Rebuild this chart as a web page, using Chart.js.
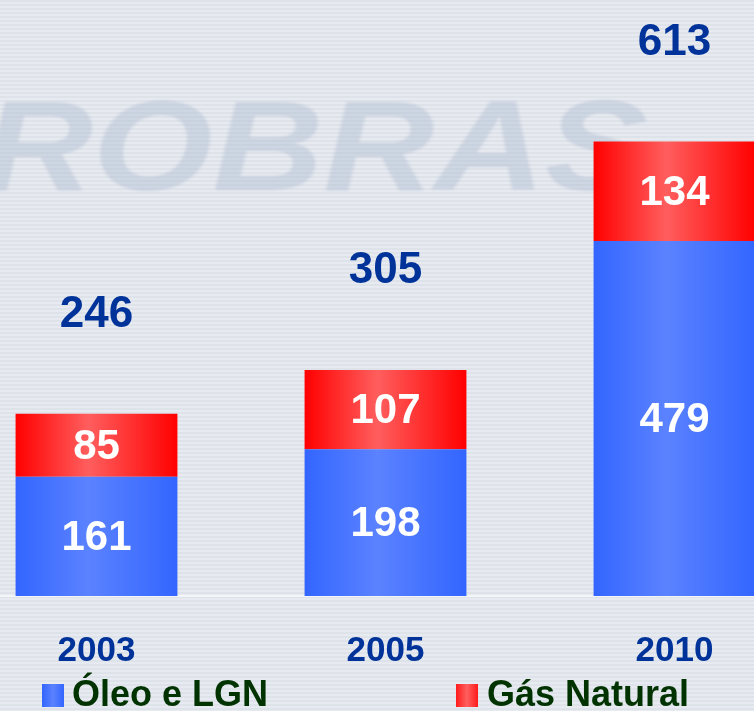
<!DOCTYPE html>
<html>
<head>
<meta charset="utf-8">
<script src="https://cdn.jsdelivr.net/npm/chart.js@4/dist/chart.umd.min.js"></script>
<style>
    html, body {
        margin: 0;
        padding: 0;
        width: 754px;
        height: 711px;
        overflow: hidden;
    }
    body {
        position: relative;
        background: repeating-linear-gradient(180deg, #dee2e9 0px, #dee2e9 2px, #e7eaf0 2px, #e7eaf0 4px);
        font-family: "Liberation Sans", Arial, sans-serif;
    }
    #watermark {
        position: absolute;
        left: -18px;
        top: 82px;
        font: italic bold 128px/128px "Liberation Sans", Arial, sans-serif;
        color: rgba(165, 182, 204, 0.38);
        filter: blur(1.2px);
        transform: scaleX(1.2);
        transform-origin: left top;
        white-space: nowrap;
    }
    #chartCanvas {
        position: absolute;
        left: -48px;
        top: 0;
    }
    .legend-item {
        position: absolute;
        top: 673px;
        font: bold 36px "Liberation Sans", Arial, sans-serif;
        color: #003300;
        white-space: nowrap;
    }
    .legend-box {
        position: absolute;
        top: 684px;
        width: 22px;
        height: 23px;
    }
</style>
</head>
<body>
<div id="watermark">ROBRAS</div>
<canvas id="chartCanvas" width="867" height="711"></canvas>
<div class="legend-box" style="left:42px;background:linear-gradient(90deg,#3366ff,#5b82ff,#3366ff)"></div>
<div class="legend-item" style="left:72px">Óleo e LGN</div>
<div class="legend-box" style="left:456px;background:linear-gradient(90deg,#ff1a1a,#ff6060,#ff1a1a)"></div>
<div class="legend-item" style="left:487px">Gás Natural</div>
<script>
    const years = ['2003', '2005', '2010'];
    const oleoLgn = [161, 198, 479];
    const gasNatural = [85, 107, 134];
    const totals = [246, 305, 613];

    const BAR_FRACTION = 0.56;

    function barGradient(context, edge, mid) {
        const chart = context.chart;
        const xs = chart.scales.x;
        if (!xs || context.type !== 'data') {
            return edge;
        }
        const cx = xs.getPixelForValue(context.dataIndex);
        const half = xs.width / years.length * BAR_FRACTION / 2;
        if (!isFinite(cx) || !isFinite(half) || half <= 0) {
            return edge;
        }
        const g = chart.ctx.createLinearGradient(cx - half, 0, cx + half, 0);
        g.addColorStop(0, edge);
        g.addColorStop(0.45, mid);
        g.addColorStop(1, edge);
        return g;
    }

    // white values inside the segments and the blue totals above each stack
    const valueLabels = {
        id: 'valueLabels',
        afterDatasetsDraw(chart) {
            const ctx = chart.ctx;
            ctx.save();
            ctx.textAlign = 'center';
            ctx.textBaseline = 'middle';
            ctx.font = 'bold 42px "Liberation Sans", Arial, sans-serif';
            ctx.fillStyle = '#ffffff';
            chart.data.datasets.forEach(function (dataset, di) {
                const meta = chart.getDatasetMeta(di);
                meta.data.forEach(function (bar, i) {
                    ctx.fillText(String(dataset.data[i]), bar.x, (bar.y + bar.base) / 2 + 2);
                });
            });
            const topMeta = chart.getDatasetMeta(chart.data.datasets.length - 1);
            ctx.fillStyle = '#003399';
            ctx.font = 'bold 44px "Liberation Sans", Arial, sans-serif';
            topMeta.data.forEach(function (bar, i) {
                ctx.fillText(String(totals[i]), bar.x, bar.y - 99);
            });
            ctx.restore();
        }
    };

    const ctx = document.getElementById('chartCanvas').getContext('2d');
    const chart = new Chart(ctx, {
        type: 'bar',
        data: {
            labels: years,
            datasets: [
                {
                    label: 'Óleo e LGN',
                    data: oleoLgn,
                    backgroundColor: function (c) { return barGradient(c, '#3366ff', '#5b82ff'); },
                    borderWidth: 0
                },
                {
                    label: 'Gás Natural',
                    data: gasNatural,
                    backgroundColor: function (c) { return barGradient(c, '#ff0000', '#ff5e5e'); },
                    borderWidth: 0
                }
            ]
        },
        options: {
            responsive: false,
            animation: false,
            devicePixelRatio: 1,
            categoryPercentage: 1,
            barPercentage: BAR_FRACTION,
            layout: {
                padding: {top: 0, right: 0, bottom: 13, left: 0}
            },
            scales: {
                x: {
                    stacked: true,
                    grid: {display: false},
                    border: {display: true, color: '#f3f5f9', width: 2},
                    ticks: {
                        color: '#003399',
                        padding: 26,
                        font: {family: '"Liberation Sans", Arial, sans-serif', size: 35, weight: 'bold'}
                    }
                },
                y: {
                    stacked: true,
                    display: false,
                    min: 0,
                    max: 804
                }
            },
            plugins: {
                legend: {display: false},
                tooltip: {enabled: false}
            }
        },
        plugins: [valueLabels]
    });
</script>
</body>
</html>
